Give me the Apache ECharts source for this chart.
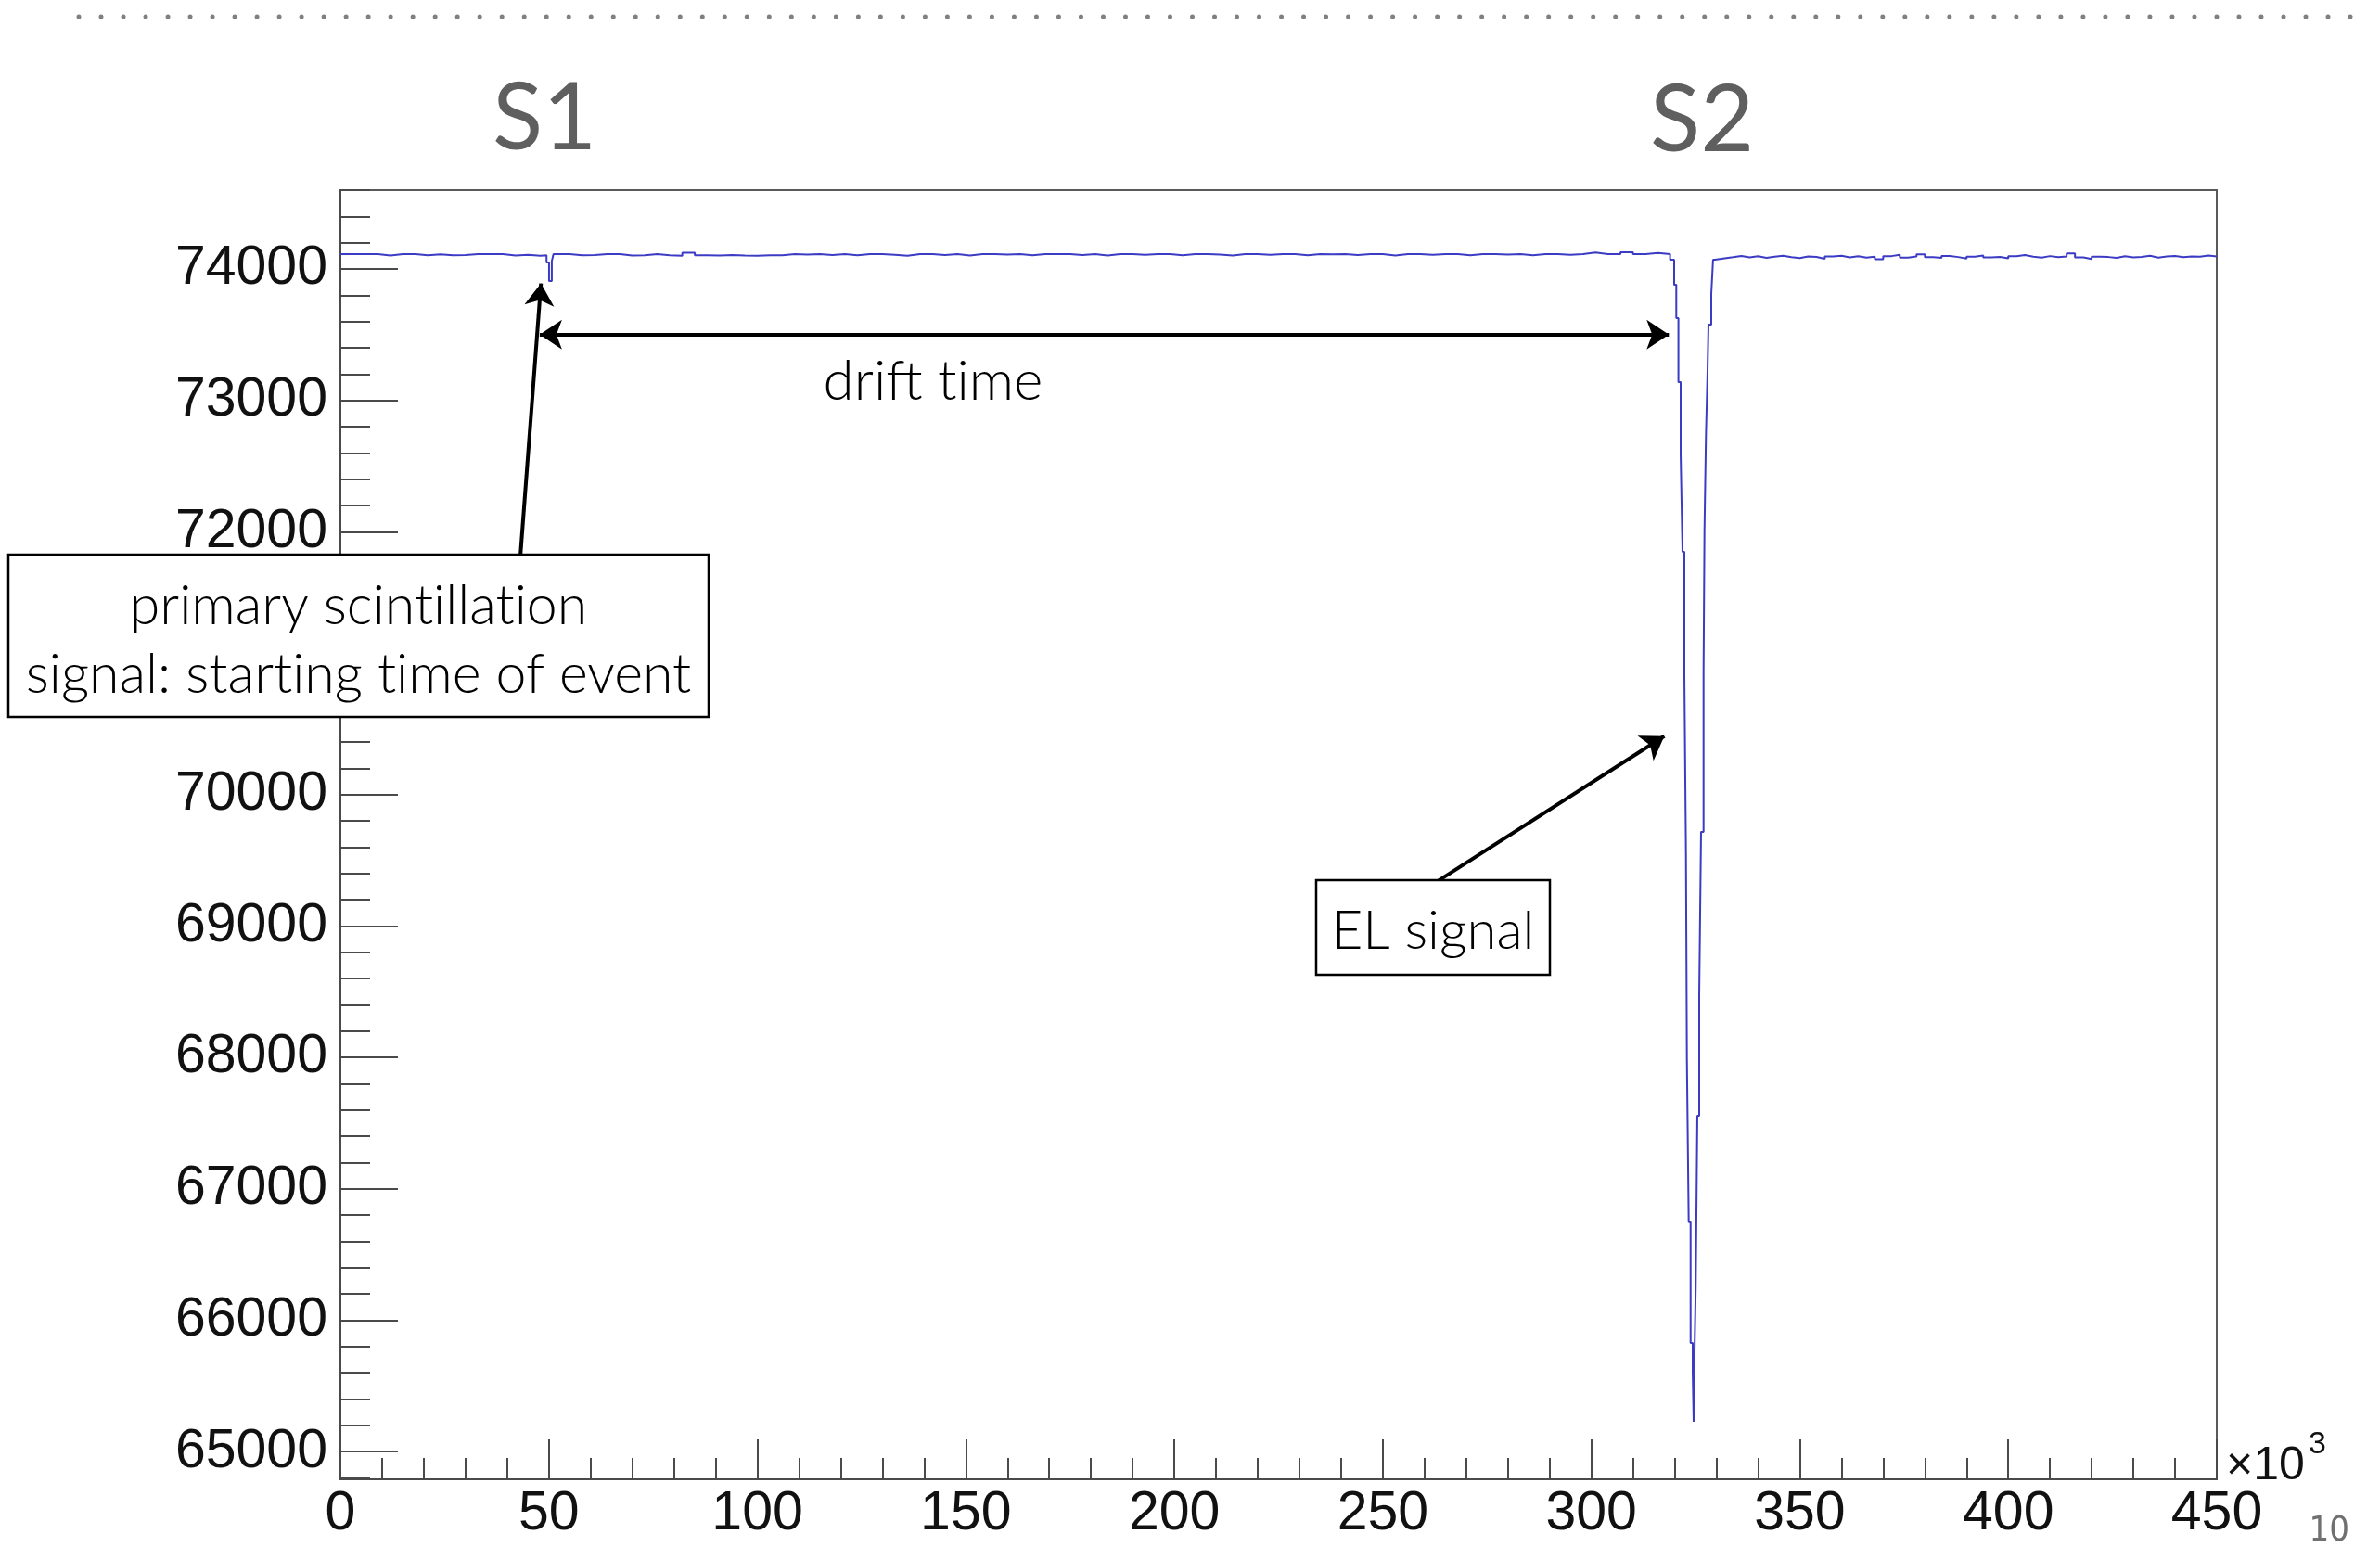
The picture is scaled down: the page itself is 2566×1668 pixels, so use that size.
<!DOCTYPE html>
<html><head><meta charset="utf-8">
<script src="https://cdn.jsdelivr.net/npm/echarts@6/dist/echarts.min.js"></script>
<style>html,body{margin:0;padding:0;background:#fff}#c{width:2566px;height:1668px}</style>
</head><body><div id="c"></div>
<script>
// ---------- DATA (x in units of 10^3, y in ADC counts) ----------
// baseline before S1: samples every 3 (x10^3) starting at 0
const baseAStart = 0, baseAStep = 3;
const baseA = [74113, 74113, 74113, 74102, 74113, 74113, 74104, 74112, 74104, 74106, 74113, 74113, 74113, 74103, 74108, 74101, 74105];
// S1 (primary scintillation) pulse
const s1T = [49.44, 50.04, 50.7, 51.1];
const s1V = [74050, 73908, 74060, 74113];
// baseline between S1 and S2: samples every 3 starting at 52
const baseBStart = 52, baseBStep = 3;
const baseB = [74113, 74104, 74106, 74113, 74113, 74103, 74105, 74113, 74104, 74101,
  74124, 74104, 74102, 74106, 74103, 74101, 74105, 74104, 74113, 74110,
  74113, 74106, 74113, 74104, 74113, 74113, 74108, 74101, 74113, 74113,
  74106, 74113, 74103, 74113, 74113, 74109, 74113, 74104, 74113, 74113,
  74113, 74106, 74113, 74102, 74113, 74113, 74108, 74113, 74113, 74105,
  74113, 74113, 74110, 74103, 74113, 74113, 74107, 74113, 74113, 74104,
  74113, 74111, 74113, 74106, 74113, 74113, 74102, 74113, 74113, 74108,
  74113, 74113, 74105, 74113, 74113, 74109, 74113, 74104, 74113, 74113,
  74107, 74113, 74126, 74113, 74113, 74128, 74113, 74122, 74113];
// S2 (electroluminescence) pulse
const s2T = [318.89, 319.87, 320.38, 320.89, 321.43, 321.87, 322.32, 322.70, 322.92, 323.36,
  323.81, 324.32, 324.54, 324.76, 325.05, 325.43, 325.88, 326.32, 326.92, 327.14,
  327.50, 327.88, 328.10, 328.77, 329.20, 329.66];
const s2V = [74071, 73880, 73626, 73139, 72589, 71848, 70902, 69554, 67988, 66746,
  65828, 65609, 65228, 65744, 66259, 67557, 68475, 69717, 70930, 72010,
  72737, 73224, 73577, 73810, 74071, 74085];
// baseline after S2: samples every 2 starting at 330
const baseCStart = 330, baseCStep = 2;
const baseC = [74082, 74090, 74099, 74088, 74097, 74085, 74094, 74101, 74090, 74083,
  74096, 74092, 74078, 74095, 74100, 74089, 74097, 74086, 74093, 74075,
  74098, 74108, 74087, 74095, 74112, 74090, 74084, 74099, 74091, 74079,
  74094, 74103, 74088, 74092, 74081, 74097, 74106, 74093, 74087, 74098,
  74090, 74096, 74118, 74089, 74076, 74094, 74091, 74085, 74097, 74088,
  74092, 74101, 74087, 74095, 74099, 74090, 74096, 74093, 74102, 74095, 74097];

// axes
const xMin = 0, xMax = 450, xStep = 50;
const yMin = 64790, yMax = 74600;
const yMajorTicks = [65000, 66000, 67000, 68000, 69000, 70000, 71000, 72000, 73000, 74000];
const yMinorTicks = [64800, 65000, 65200, 65400, 65600, 65800, 66000, 66200, 66400, 66600, 66800,
  67000, 67200, 67400, 67600, 67800, 68000, 68200, 68400, 68600, 68800, 69000, 69200, 69400,
  69600, 69800, 70000, 70200, 70400, 70600, 70800, 71000, 71200, 71400, 71600, 71800, 72000,
  72200, 72400, 72600, 72800, 73000, 73200, 73400, 73600, 73800, 74000, 74200, 74400, 74600];

// annotation anchors (data units)
const driftArrow = [[47.8, 73500], [318.6, 73500]];
const s1Arrow = [[43.2, 71830], [48.1, 73890]];
const elArrow = [[263.3, 69345], [317.5, 70445]];

// ---------- BUILD ----------
const data = [];
baseA.forEach((v, i) => data.push([baseAStart + i * baseAStep, v]));
s1T.forEach((t, i) => data.push([t, s1V[i]]));
baseB.forEach((v, i) => data.push([baseBStart + i * baseBStep, v]));
s2T.forEach((t, i) => data.push([t, s2V[i]]));
baseC.forEach((v, i) => data.push([baseCStart + i * baseCStep, v]));

const axisCol = '#4a4a4a';
const lblFont = 'Liberation Sans, Arial, sans-serif';
const annFont = 'Lato, "Open Sans", sans-serif';
const arrowSize = [24, 24];
const ZW = '\u200C'; // zero-width non-joiner: prevents "ti" ligatures

const chart = echarts.init(document.getElementById('c'), null, {renderer: 'canvas'});
chart.setOption({
  animation: false,
  backgroundColor: '#ffffff',
  grid: {left: 367, right: 176, top: 205, bottom: 73, show: true, borderColor: '#5a5a5a', borderWidth: 2, backgroundColor: 'transparent', outerBoundsMode: 'none'},
  xAxis: {
    type: 'value', min: xMin, max: xMax, interval: xStep,
    axisLine: {show: true, onZero: false, lineStyle: {color: axisCol, width: 2}},
    axisTick: {show: true, inside: true, length: 43, lineStyle: {color: axisCol, width: 2}},
    minorTick: {show: true, splitNumber: 5, length: 23, lineStyle: {color: axisCol, width: 2}},
    axisLabel: {margin: 8, fontFamily: lblFont, fontSize: 59, color: '#111', formatter: v => String(v)},
    splitLine: {show: false}, minorSplitLine: {show: false}
  },
  yAxis: [{
    type: 'value', min: yMin, max: yMax,
    axisLine: {show: true, onZero: false, lineStyle: {color: axisCol, width: 2}},
    axisTick: {show: true, inside: true, length: 62, customValues: yMajorTicks, lineStyle: {color: axisCol, width: 2}},
    axisLabel: {customValues: yMajorTicks, margin: 14, fontFamily: lblFont, fontSize: 59, color: '#111', formatter: v => String(v)},
    splitLine: {show: false}
  }, {
    type: 'value', min: yMin, max: yMax, position: 'left',
    axisLine: {show: false},
    axisTick: {show: true, inside: true, length: 32, customValues: yMinorTicks, lineStyle: {color: axisCol, width: 2}},
    axisLabel: {show: false},
    splitLine: {show: false}
  }],
  series: [{
    type: 'line', data: data, step: 'end', showSymbol: false, symbol: 'none',
    lineStyle: {color: '#3b3bc4', width: 2}, yAxisIndex: 0,
    markLine: {
      silent: true, animation: false, symbol: ['none', 'none'],
      label: {show: false}, emphasis: {disabled: true},
      lineStyle: {color: '#000', width: 4, type: 'solid'},
      data: [
        [{coord: driftArrow[0], symbol: 'arrow', symbolSize: arrowSize}, {coord: driftArrow[1], symbol: 'arrow', symbolSize: arrowSize}],
        [{coord: s1Arrow[0], symbol: 'none'}, {coord: s1Arrow[1], symbol: 'arrow', symbolSize: arrowSize}],
        [{coord: elArrow[0], symbol: 'none'}, {coord: elArrow[1], symbol: 'arrow', symbolSize: arrowSize}]
      ]
    }
  }],
  graphic: [
    {type: 'line', shape: {x1: 85, y1: 18, x2: 2535, y2: 18}, style: {stroke: '#808080', lineWidth: 5, lineDash: [0.01, 24], lineCap: 'round'}},
    {type: 'text', x: 587, y: 129, style: {text: 'S1', align: 'center', verticalAlign: 'middle', fontFamily: annFont, fontSize: 100, fill: '#5f5f5f'}},
    {type: 'text', x: 1835, y: 131, style: {text: 'S2', align: 'center', verticalAlign: 'middle', fontFamily: annFont, fontSize: 100, fill: '#5f5f5f'}},
    {type: 'text', x: 1006, y: 412, style: {text: 'drift t' + ZW + 'ime', align: 'center', verticalAlign: 'middle', fontFamily: annFont, fontWeight: 300, fontSize: 60, fill: '#000'}},
    {type: 'rect', z: 100, shape: {x: 9, y: 598, width: 755, height: 175}, style: {fill: '#fff', stroke: '#000', lineWidth: 2.5}},
    {type: 'text', z: 101, x: 386.5, y: 654, style: {text: 'primary scint' + ZW + 'illat' + ZW + 'ion', align: 'center', verticalAlign: 'middle', fontFamily: annFont, fontWeight: 300, fontSize: 59, fill: '#000'}},
    {type: 'text', z: 101, x: 386.5, y: 728, style: {text: 'signal: start' + ZW + 'ing t' + ZW + 'ime of event', align: 'center', verticalAlign: 'middle', fontFamily: annFont, fontWeight: 300, fontSize: 59, fill: '#000'}},
    {type: 'rect', z: 100, shape: {x: 1419, y: 949, width: 252, height: 102}, style: {fill: '#fff', stroke: '#000', lineWidth: 2.5}},
    {type: 'text', z: 101, x: 1545, y: 1004, style: {text: 'EL signal', align: 'center', verticalAlign: 'middle', fontFamily: annFont, fontWeight: 300, fontSize: 58, fill: '#000'}},
    {type: 'text', x: 2400, y: 1581, style: {text: '×10', align: 'left', verticalAlign: 'middle', fontFamily: lblFont, fontSize: 50, fill: '#111'}},
    {type: 'text', x: 2489, y: 1558, style: {text: '3', align: 'left', verticalAlign: 'middle', fontFamily: lblFont, fontSize: 34, fill: '#111'}},
    {type: 'text', x: 2533, y: 1651, style: {text: '10', align: 'right', verticalAlign: 'middle', fontFamily: '"Liberation Sans Narrow", "DejaVu Sans Condensed", sans-serif', fontSize: 38, fill: '#707070'}}
  ]
});
</script>
</body></html>
